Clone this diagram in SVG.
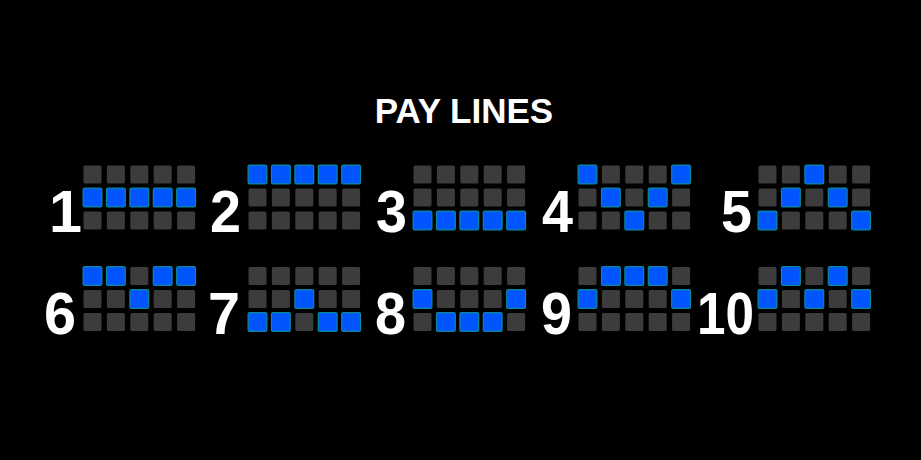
<svg xmlns="http://www.w3.org/2000/svg" xmlns:xlink="http://www.w3.org/1999/xlink" width="921" height="460" viewBox="0 0 921 460">
<style>
.title{font-family:"Liberation Sans",Arial,sans-serif;font-weight:bold;font-size:35px;fill:#fff}
.num{font-family:"Liberation Sans",Arial,sans-serif;font-weight:bold;font-size:60px;fill:#fff}
.g{fill:#3c3c3c}
.b{fill:#0055ff;stroke:#0a8a9a;stroke-width:1.2}
</style>
<defs>
<rect id="gc" class="g" width="18" height="18" rx="1.5"/>
<rect id="bc" class="b" x="-0.4" y="-0.4" width="18.8" height="18.8" rx="1.5"/>
<g id="grid">
<use xlink:href="#gc" x="0" y="0"/><use xlink:href="#gc" x="23.4" y="0"/><use xlink:href="#gc" x="46.8" y="0"/><use xlink:href="#gc" x="70.2" y="0"/><use xlink:href="#gc" x="93.6" y="0"/>
<use xlink:href="#gc" x="0" y="23"/><use xlink:href="#gc" x="23.4" y="23"/><use xlink:href="#gc" x="46.8" y="23"/><use xlink:href="#gc" x="70.2" y="23"/><use xlink:href="#gc" x="93.6" y="23"/>
<use xlink:href="#gc" x="0" y="46"/><use xlink:href="#gc" x="23.4" y="46"/><use xlink:href="#gc" x="46.8" y="46"/><use xlink:href="#gc" x="70.2" y="46"/><use xlink:href="#gc" x="93.6" y="46"/>
</g>
</defs>
<rect width="921" height="460" fill="#000"/>
<text class="title" x="464" y="123" text-anchor="middle">PAY LINES</text>

<g id="line1">
<text class="num" x="49" y="232" textLength="33" lengthAdjust="spacingAndGlyphs">1</text>
<g transform="translate(83.5,165.5)"><use xlink:href="#grid"/>
<use xlink:href="#bc" x="0" y="23"/><use xlink:href="#bc" x="23.4" y="23"/><use xlink:href="#bc" x="46.8" y="23"/><use xlink:href="#bc" x="70.2" y="23"/><use xlink:href="#bc" x="93.6" y="23"/></g>
</g>
<g id="line2">
<text class="num" x="210" y="232" textLength="31" lengthAdjust="spacingAndGlyphs">2</text>
<g transform="translate(248.5,165.5)"><use xlink:href="#grid"/>
<use xlink:href="#bc" x="0" y="0"/><use xlink:href="#bc" x="23.4" y="0"/><use xlink:href="#bc" x="46.8" y="0"/><use xlink:href="#bc" x="70.2" y="0"/><use xlink:href="#bc" x="93.6" y="0"/></g>
</g>
<g id="line3">
<text class="num" x="376" y="232" textLength="31" lengthAdjust="spacingAndGlyphs">3</text>
<g transform="translate(413.5,165.5)"><use xlink:href="#grid"/>
<use xlink:href="#bc" x="0" y="46"/><use xlink:href="#bc" x="23.4" y="46"/><use xlink:href="#bc" x="46.8" y="46"/><use xlink:href="#bc" x="70.2" y="46"/><use xlink:href="#bc" x="93.6" y="46"/></g>
</g>
<g id="line4">
<text class="num" x="542" y="232" textLength="31" lengthAdjust="spacingAndGlyphs">4</text>
<g transform="translate(578.5,165.5)"><use xlink:href="#grid"/>
<use xlink:href="#bc" x="0" y="0"/><use xlink:href="#bc" x="23.4" y="23"/><use xlink:href="#bc" x="46.8" y="46"/><use xlink:href="#bc" x="70.2" y="23"/><use xlink:href="#bc" x="93.6" y="0"/></g>
</g>
<g id="line5">
<text class="num" x="721" y="232" textLength="31" lengthAdjust="spacingAndGlyphs">5</text>
<g transform="translate(758.5,165.5)"><use xlink:href="#grid"/>
<use xlink:href="#bc" x="0" y="46"/><use xlink:href="#bc" x="23.4" y="23"/><use xlink:href="#bc" x="46.8" y="0"/><use xlink:href="#bc" x="70.2" y="23"/><use xlink:href="#bc" x="93.6" y="46"/></g>
</g>

<g id="line6">
<text class="num" x="44" y="334" textLength="32" lengthAdjust="spacingAndGlyphs">6</text>
<g transform="translate(83.5,267)"><use xlink:href="#grid"/>
<use xlink:href="#bc" x="0" y="0"/><use xlink:href="#bc" x="23.4" y="0"/><use xlink:href="#bc" x="46.8" y="23"/><use xlink:href="#bc" x="70.2" y="0"/><use xlink:href="#bc" x="93.6" y="0"/></g>
</g>
<g id="line7">
<text class="num" x="208" y="334" textLength="32" lengthAdjust="spacingAndGlyphs">7</text>
<g transform="translate(248.5,267)"><use xlink:href="#grid"/>
<use xlink:href="#bc" x="0" y="46"/><use xlink:href="#bc" x="23.4" y="46"/><use xlink:href="#bc" x="46.8" y="23"/><use xlink:href="#bc" x="70.2" y="46"/><use xlink:href="#bc" x="93.6" y="46"/></g>
</g>
<g id="line8">
<text class="num" x="375" y="334" textLength="31" lengthAdjust="spacingAndGlyphs">8</text>
<g transform="translate(413.5,267)"><use xlink:href="#grid"/>
<use xlink:href="#bc" x="0" y="23"/><use xlink:href="#bc" x="23.4" y="46"/><use xlink:href="#bc" x="46.8" y="46"/><use xlink:href="#bc" x="70.2" y="46"/><use xlink:href="#bc" x="93.6" y="23"/></g>
</g>
<g id="line9">
<text class="num" x="541" y="334" textLength="31" lengthAdjust="spacingAndGlyphs">9</text>
<g transform="translate(578.5,267)"><use xlink:href="#grid"/>
<use xlink:href="#bc" x="0" y="23"/><use xlink:href="#bc" x="23.4" y="0"/><use xlink:href="#bc" x="46.8" y="0"/><use xlink:href="#bc" x="70.2" y="0"/><use xlink:href="#bc" x="93.6" y="23"/></g>
</g>
<g id="line10">
<text class="num" x="697" y="334" textLength="57" lengthAdjust="spacingAndGlyphs">10</text>
<g transform="translate(758.5,267)"><use xlink:href="#grid"/>
<use xlink:href="#bc" x="0" y="23"/><use xlink:href="#bc" x="23.4" y="0"/><use xlink:href="#bc" x="46.8" y="23"/><use xlink:href="#bc" x="70.2" y="0"/><use xlink:href="#bc" x="93.6" y="23"/></g>
</g>
</svg>
